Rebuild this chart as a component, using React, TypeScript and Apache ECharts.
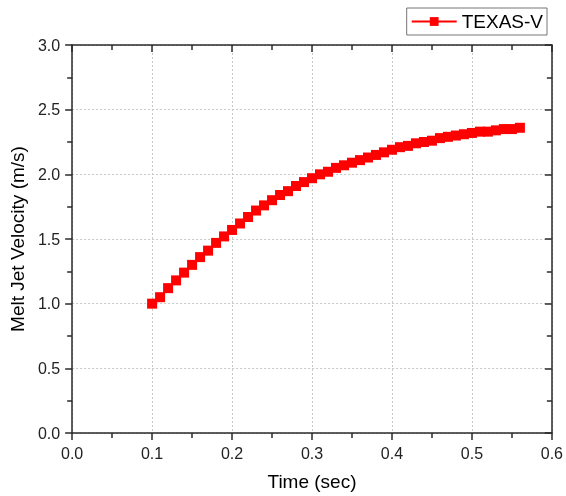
import React, { useEffect, useRef } from "react";
import * as echarts from "echarts";

const timeSec = [
  0.1, 0.11, 0.12, 0.13, 0.14, 0.15, 0.16, 0.17, 0.18, 0.19,
  0.2, 0.21, 0.22, 0.23, 0.24, 0.25, 0.26, 0.27, 0.28, 0.29,
  0.3, 0.31, 0.32, 0.33, 0.34, 0.35, 0.36, 0.37, 0.38, 0.39,
  0.4, 0.41, 0.42, 0.43, 0.44, 0.45, 0.46, 0.47, 0.48, 0.49,
  0.5, 0.51, 0.52, 0.53, 0.54, 0.55, 0.56,
];
const velocity = [
  1.0, 1.05, 1.12, 1.18, 1.24, 1.3, 1.36, 1.41, 1.47, 1.52,
  1.57, 1.62, 1.67, 1.72, 1.76, 1.8, 1.84, 1.87, 1.91, 1.94,
  1.97, 2.0, 2.02, 2.05, 2.07, 2.09, 2.11, 2.13, 2.15, 2.17,
  2.19, 2.21, 2.22, 2.24, 2.25, 2.26, 2.28, 2.29, 2.3, 2.31,
  2.32, 2.33, 2.33, 2.34, 2.35, 2.35, 2.36,
];
const seriesName = "TEXAS-V";
const xTitle = "Time (sec)";
const yTitle = "Melt Jet Velocity (m/s)";

const FONT = "'Liberation Sans', Arial, sans-serif";
const AXIS_COLOR = "#2a2a2a";

export default function App() {
  const ref = useRef<HTMLDivElement>(null);
  useEffect(() => {
    if (!ref.current) return;
    const chart = echarts.init(ref.current, null, { renderer: "svg" });
    const axisLine = { show: true, onZero: false, lineStyle: { color: AXIS_COLOR, width: 1.5 } };
    const tickStyle = { color: AXIS_COLOR, width: 1.5 };
    chart.setOption({
      animation: false,
      textStyle: { fontFamily: FONT },
      grid: { left: 69, right: 13, top: 45, bottom: 62 },
      legend: {
        right: 19,
        top: 8,
        borderColor: "#777",
        borderWidth: 1,
        padding: [4, 4, 4, 4],
        itemWidth: 45,
        itemHeight: 11,
        itemGap: 4,
        textStyle: { fontFamily: FONT, fontSize: 19, color: "#000" },
        data: [seriesName],
      },
      xAxis: [
        {
          type: "value",
          min: 0,
          max: 0.6,
          interval: 0.1,
          name: xTitle,
          nameLocation: "middle",
          nameGap: 39,
          nameTextStyle: { fontFamily: FONT, fontSize: 19, color: "#000" },
          axisLine,
          axisTick: { show: true, inside: false, length: 7, lineStyle: tickStyle },
          minorTick: { show: true, splitNumber: 2, length: 5, lineStyle: tickStyle },
          axisLabel: { fontFamily: FONT, fontSize: 16, color: "#222", margin: 12, formatter: (v: number) => v.toFixed(1) },
          splitLine: { show: true, lineStyle: { color: "#c8c8c8", type: [2, 2], width: 1 } },
        },
        {
          type: "value",
          position: "top",
          min: 0,
          max: 0.6,
          interval: 0.1,
          axisLine,
          axisTick: { show: true, inside: true, length: 7, lineStyle: tickStyle },
          minorTick: { show: true, splitNumber: 2, length: 5, lineStyle: tickStyle },
          axisLabel: { show: false },
          splitLine: { show: false },
        },
      ],
      yAxis: [
        {
          type: "value",
          min: 0,
          max: 3,
          interval: 0.5,
          name: yTitle,
          nameLocation: "middle",
          nameGap: 42,
          nameTextStyle: { fontFamily: FONT, fontSize: 19, color: "#000" },
          axisLine,
          axisTick: { show: true, inside: false, length: 7, lineStyle: tickStyle },
          minorTick: { show: true, splitNumber: 2, length: 5, lineStyle: tickStyle },
          axisLabel: { fontFamily: FONT, fontSize: 16, color: "#222", margin: 12, formatter: (v: number) => v.toFixed(1) },
          splitLine: { show: true, lineStyle: { color: "#c8c8c8", type: [2, 2], width: 1 } },
        },
        {
          type: "value",
          position: "right",
          min: 0,
          max: 3,
          interval: 0.5,
          axisLine,
          axisTick: { show: true, inside: true, length: 7, lineStyle: tickStyle },
          minorTick: { show: true, splitNumber: 2, length: 5, lineStyle: tickStyle },
          axisLabel: { show: false },
          splitLine: { show: false },
        },
      ],
      series: [
        {
          name: seriesName,
          type: "line",
          xAxisIndex: 0,
          yAxisIndex: 0,
          data: timeSec.map((t, i) => [t, velocity[i]]),
          symbol: "rect",
          symbolSize: 10,
          itemStyle: { color: "#ff0000" },
          lineStyle: { color: "#ff0000", width: 1.5 },
        },
      ],
    });
    return () => chart.dispose();
  }, []);
  return (
    <div
      ref={ref}
      style={{ position: "fixed", left: 0, top: 0, width: 566, height: 496 }}
    />
  );
}
